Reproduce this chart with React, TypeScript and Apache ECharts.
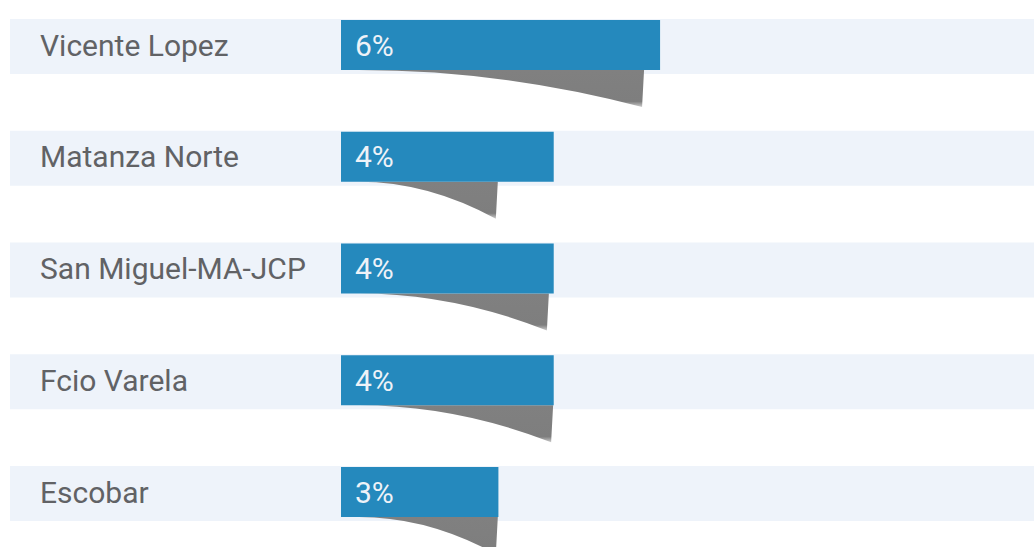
import React, { useEffect, useRef } from "react";
import * as echarts from "echarts";

const categories = ["Vicente Lopez", "Matanza Norte", "San Miguel-MA-JCP", "Fcio Varela", "Escobar"];
const values = [6.0, 4.0, 4.0, 4.0, 2.96];
// where each curled shadow ends, read on the same value scale
const shadowEnds = [5.68, 2.93, 3.89, 3.97, 2.93];

export default function App() {
  const ref = useRef<HTMLDivElement>(null);
  useEffect(() => {
    document.body.style.margin = "0";
    const chart = echarts.init(ref.current!, null, { renderer: "svg" });
    const data = values.map((v, i) => [v, i, shadowEnds[i]]);
    chart.setOption({
      animation: false,
      grid: { left: 341, right: 0, top: 45, bottom: 55 },
      xAxis: { type: "value", min: 0, max: 13.05, show: false },
      yAxis: {
        type: "category",
        data: categories,
        inverse: true,
        boundaryGap: false,
        z: 10,
        axisLine: { show: false },
        axisTick: { show: false },
        splitLine: { show: false },
        axisLabel: {
          align: "left",
          margin: 301,
          fontSize: 30,
          color: "#616265",
          fontFamily: "Roboto",
        },
      },
      series: [
        {
          type: "custom",
          z: 1,
          clip: false,
          silent: true,
          encode: { x: 0, y: 1 },
          data,
          renderItem: (params: any, api: any) => {
            const idx = api.value(1);
            const [x0, yc] = api.coord([0, idx]);
            const x1 = api.coord([api.value(2), idx])[0];
            const b = yc + 25;
            const d = 37;
            const sx = x0 + 18;
            const w = x1 - sx;
            const path = `M${sx} ${b} Q${sx + 0.5 * w} ${b} ${x1 - 1} ${b + d} L${x1 + 1} ${b} Z`;
            return {
              type: "group",
              children: [
                {
                  type: "rect",
                  shape: { x: 10, y: yc - 26, width: api.getWidth() - 11, height: 55 },
                  style: { fill: "#eef3fa" },
                },
                {
                  type: "path",
                  shape: { pathData: path },
                  style: {
                    fill: new echarts.graphic.LinearGradient(0, 0, 0, 1, [
                      { offset: 0, color: "#808080" },
                      { offset: 0.85, color: "#7e7e7e" },
                      { offset: 1, color: "rgba(128,128,128,0.4)" },
                    ]),
                  },
                },
              ],
            };
          },
        },
        {
          type: "bar",
          z: 3,
          data: values,
          barWidth: 50,
          itemStyle: { color: "#2589bd" },
          label: {
            show: true,
            position: "insideLeft",
            distance: 14,
            formatter: (p: any) => Math.round(p.value) + "%",
            color: "#eef2f8",
            fontSize: 30,
            fontFamily: "Roboto",
          },
        },
      ],
    });
    return () => chart.dispose();
  }, []);
  return <div ref={ref} style={{ width: 1035, height: 547 }} />;
}
